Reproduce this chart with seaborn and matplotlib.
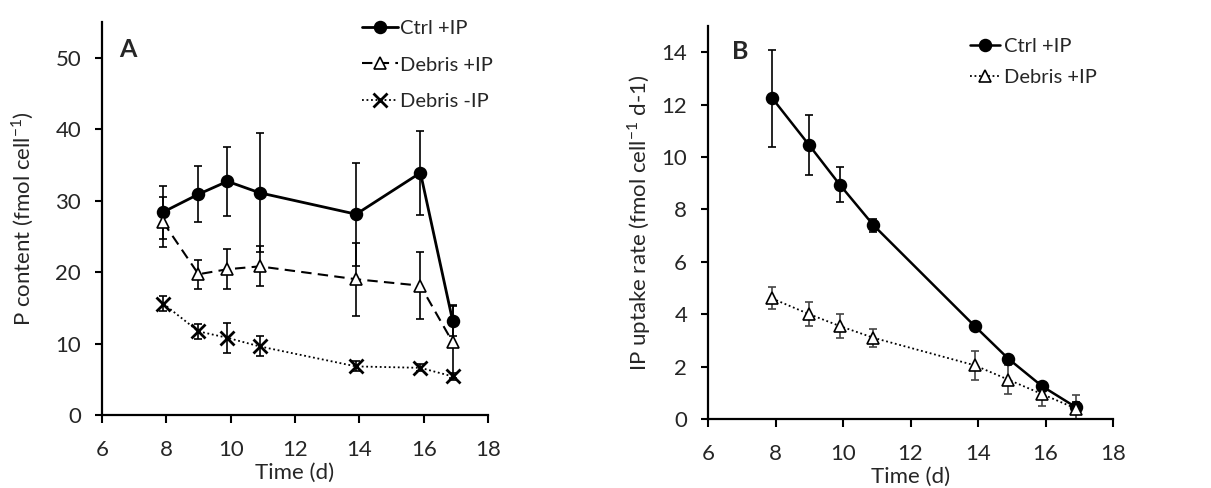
import matplotlib
matplotlib.use("Agg")
import matplotlib.pyplot as plt
import seaborn as sns
import pandas as pd

# ---- data ----
time_a = [7.9, 9.0, 9.9, 10.9, 13.9, 15.9, 16.9]
ctrl_a = [28.4, 30.9, 32.7, 31.1, 28.1, 33.9, 13.2]
ctrl_a_err = [3.7, 3.9, 4.8, 8.3, 7.2, 5.9, 2.2]
debris_a = [27.0, 19.7, 20.4, 20.8, 19.0, 18.1, 10.2]
debris_a_err = [3.5, 2.0, 2.8, 2.8, 5.1, 4.7, 5.0]
debrisn_a = [15.6, 11.7, 10.8, 9.6, 6.8, 6.6, 5.4]
debrisn_a_err = [1.1, 1.1, 2.1, 1.4, 0.7, 0.5, 0.5]

time_b = [7.9, 9.0, 9.9, 10.9, 13.9, 14.9, 15.9, 16.9]
ctrl_b = [12.25, 10.45, 8.95, 7.4, 3.55, 2.3, 1.25, 0.45]
ctrl_b_err = [1.85, 1.15, 0.65, 0.25, 0.05, 0.05, 0.1, 0.2]
debris_b = [4.6, 4.0, 3.55, 3.1, 2.05, 1.5, 0.95, 0.4]
debris_b_err = [0.42, 0.45, 0.45, 0.35, 0.55, 0.55, 0.45, 0.5]

xticks = [6, 8, 10, 12, 14, 16, 18]

sns.set_theme(style="ticks")
plt.rcParams['font.family'] = ['Lato', 'DejaVu Sans']

W, H = 1211, 488
fig = plt.figure(figsize=(W / 100, H / 100), dpi=100)
axA = fig.add_axes([102 / W, 1 - 415 / H, (488 - 102) / W, (415 - 22) / H])
axB = fig.add_axes([708 / W, 1 - 419 / H, (1113 - 708) / W, (419 - 26) / H])

def series(ax, x, y, err, label, marker, ls, mfc, lw, ms, mew=1.2, ecolor='black'):
    df = pd.DataFrame({"x": x, "y": y})
    ax.errorbar(x, y, yerr=err, fmt='none', ecolor=ecolor, elinewidth=1.2,
                capsize=3, capthick=1.2, zorder=2)
    sns.lineplot(data=df, x="x", y="y", ax=ax, color='black', linestyle=ls,
                 linewidth=lw, marker=marker, markersize=ms, markerfacecolor=mfc,
                 markeredgecolor='black', markeredgewidth=mew, label=label,
                 zorder=3, errorbar=None)

series(axA, time_a, ctrl_a, ctrl_a_err, "Ctrl +IP", 'o', '-', 'black', 2.0, 8.5)
series(axA, time_a, debris_a, debris_a_err, "Debris +IP", '^', (0, (5, 3)), 'white', 1.5, 9)
series(axA, time_a, debrisn_a, debrisn_a_err, "Debris -IP", 'x', (0, (1, 1.5)), 'black', 1.3, 10, mew=2.0)

series(axB, time_b, ctrl_b, ctrl_b_err, "Ctrl +IP", 'o', '-', 'black', 1.8, 8.5)
series(axB, time_b, debris_b, debris_b_err, "Debris +IP", '^', (0, (1, 1.5)), 'white', 1.3, 9, ecolor='#444444')

for ax, ylim, yt in [(axA, (0, 55), [0, 10, 20, 30, 40, 50]),
                     (axB, (0, 15), [0, 2, 4, 6, 8, 10, 12, 14])]:
    ax.set_xlim(6, 18)
    ax.set_ylim(*ylim)
    ax.set_xticks(xticks)
    ax.set_yticks(yt)
    ax.tick_params(axis='both', labelsize=16, width=1.5, color='black', direction='out')
    ax.tick_params(axis='x', length=6, pad=12)
    ax.tick_params(axis='y', length=5, pad=10)
    for s in ['top', 'right']:
        ax.spines[s].set_visible(False)
    for s in ['left', 'bottom']:
        ax.spines[s].set_linewidth(1.6)
        ax.spines[s].set_color('black')
    ax.set_xlabel("Time (d)", fontsize=16, labelpad=2)

axA.set_ylabel("P content (fmol cell$^{\\mathregular{-1}}$)", fontsize=16, labelpad=14)
axB.set_ylabel("IP uptake rate (fmol cell$^{\\mathregular{-1}}$ d-1)", fontsize=16, labelpad=6)

axA.text(0.045, 0.93, "A", transform=axA.transAxes, fontsize=18, fontweight='bold', va='center')
axB.text(0.06, 0.935, "B", transform=axB.transAxes, fontsize=18, fontweight='bold', va='center')

axA.legend(loc='upper left', bbox_to_anchor=(0.299, 0.959), bbox_transform=fig.transFigure,
           frameon=False, fontsize=14.5, handlelength=1.8, handletextpad=0.1,
           labelspacing=0.96, borderaxespad=0, borderpad=0)
axB.legend(loc='upper left', bbox_to_anchor=(0.801, 0.922), bbox_transform=fig.transFigure,
           frameon=False, fontsize=14.5, handlelength=1.5, handletextpad=0.2,
           labelspacing=0.66, borderaxespad=0, borderpad=0)

fig.savefig("out.png", dpi=100)
